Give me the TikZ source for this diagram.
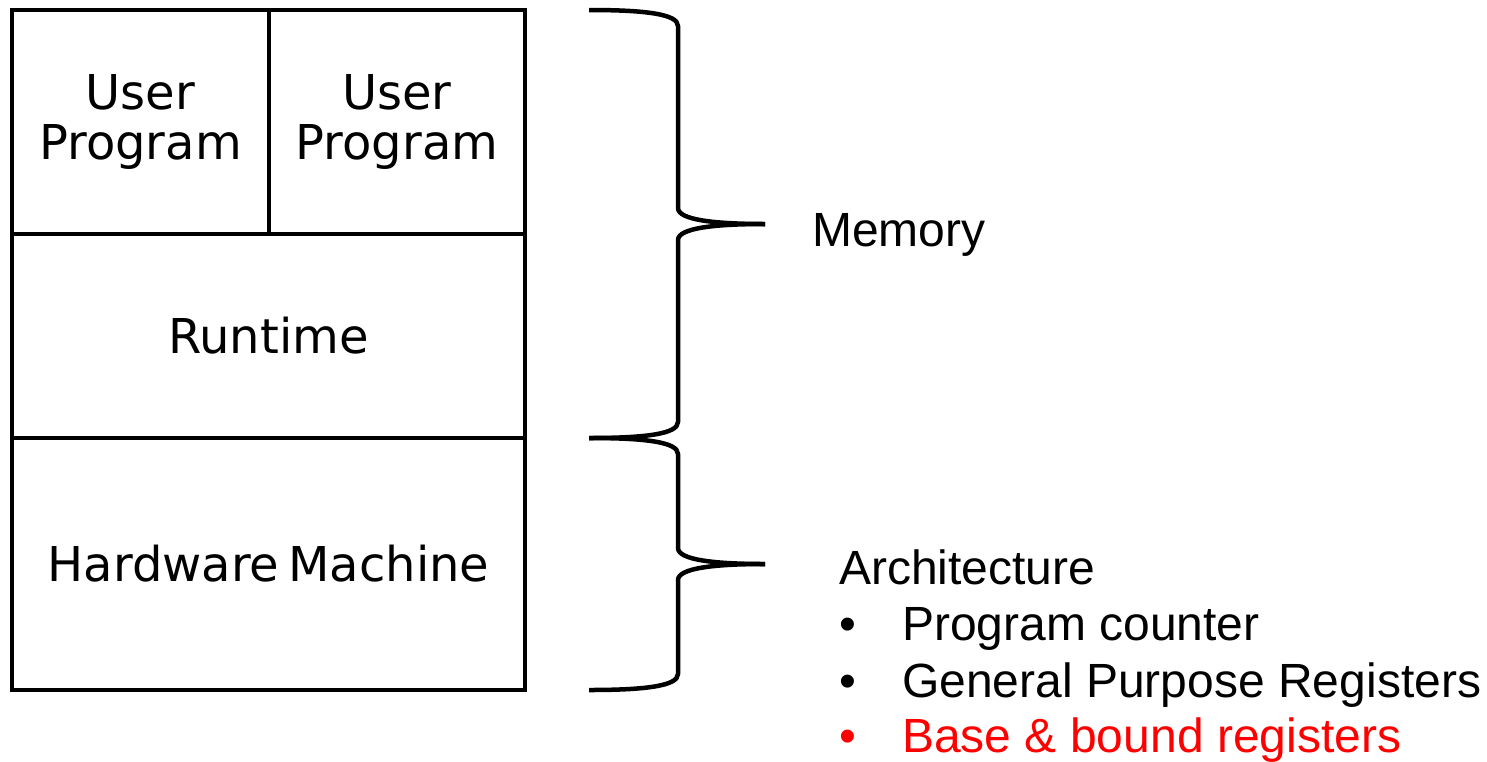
\documentclass[tikz,border=0pt]{standalone}
\usepackage{fontspec}
\setmainfont{DejaVu Sans}
\newfontfamily\sidefont{Liberation Sans}
\begin{document}
\begin{tikzpicture}[x=1pt,y=-1pt,
  layer/.style={draw=black, line width=4pt, inner sep=0pt, align=center,
    font=\fontsize{48}{50}\selectfont},
  bracepath/.style={draw=black, line width=4.5pt, line cap=butt, line join=round},
  sidetext/.style={anchor=base west, inner sep=0pt,
    font=\sidefont\fontsize{48}{56}\selectfont},
]
\useasboundingbox (0,0) rectangle (1487,761);

% memory stack
\node[layer, minimum width=257pt, minimum height=224pt] (up1) at (140.5,122) {User\\Program};
\node[layer, minimum width=256pt, minimum height=224pt] (up2) at (397,122) {User\\Program};
\node[layer, minimum width=513pt, minimum height=204pt] (rt) at (268.5,336) {Runtime};
\node[layer, minimum width=513pt, minimum height=252pt] (hw) at (268.5,564) {Hardware\hspace{9pt}Machine};

% braces
\coordinate (m1) at (589,10);
\coordinate (mtip) at (765,224);
\coordinate (m2) at (589,438);
\coordinate (a2) at (589,690);
\coordinate (atip) at (765,564);

\draw[bracepath] (m1) .. controls (645,10) and (678,14) .. (678,26)
  -- (678,208) .. controls (678,220) and (715,224) .. (mtip);
\draw[bracepath] (mtip) .. controls (715,224) and (678,228) .. (678,240)
  -- (678,422) .. controls (678,434) and (645,438) .. (m2);
\draw[bracepath] (m2) .. controls (645,438) and (678,442) .. (678,454)
  -- (678,548) .. controls (678,560) and (715,564) .. (atip);
\draw[bracepath] (atip) .. controls (715,564) and (678,568) .. (678,580)
  -- (678,674) .. controls (678,686) and (645,690) .. (a2);

% labels
\node[sidetext] (mem) at (812,246) {Memory};
\node[sidetext] (arch) at (839,584) {Architecture};
\node[sidetext] (b1) at (839,640) {•};
\node[sidetext] (t1) at (902,640) {Program counter};
\node[sidetext] (b2) at (839,697) {•};
\node[sidetext] (t2) at (902,697) {General Purpose Registers};
\node[sidetext, text=red] (b3) at (839,752) {•};
\node[sidetext, text=red] (t3) at (902,752) {Base \& bound registers};
\end{tikzpicture}
\end{document}
